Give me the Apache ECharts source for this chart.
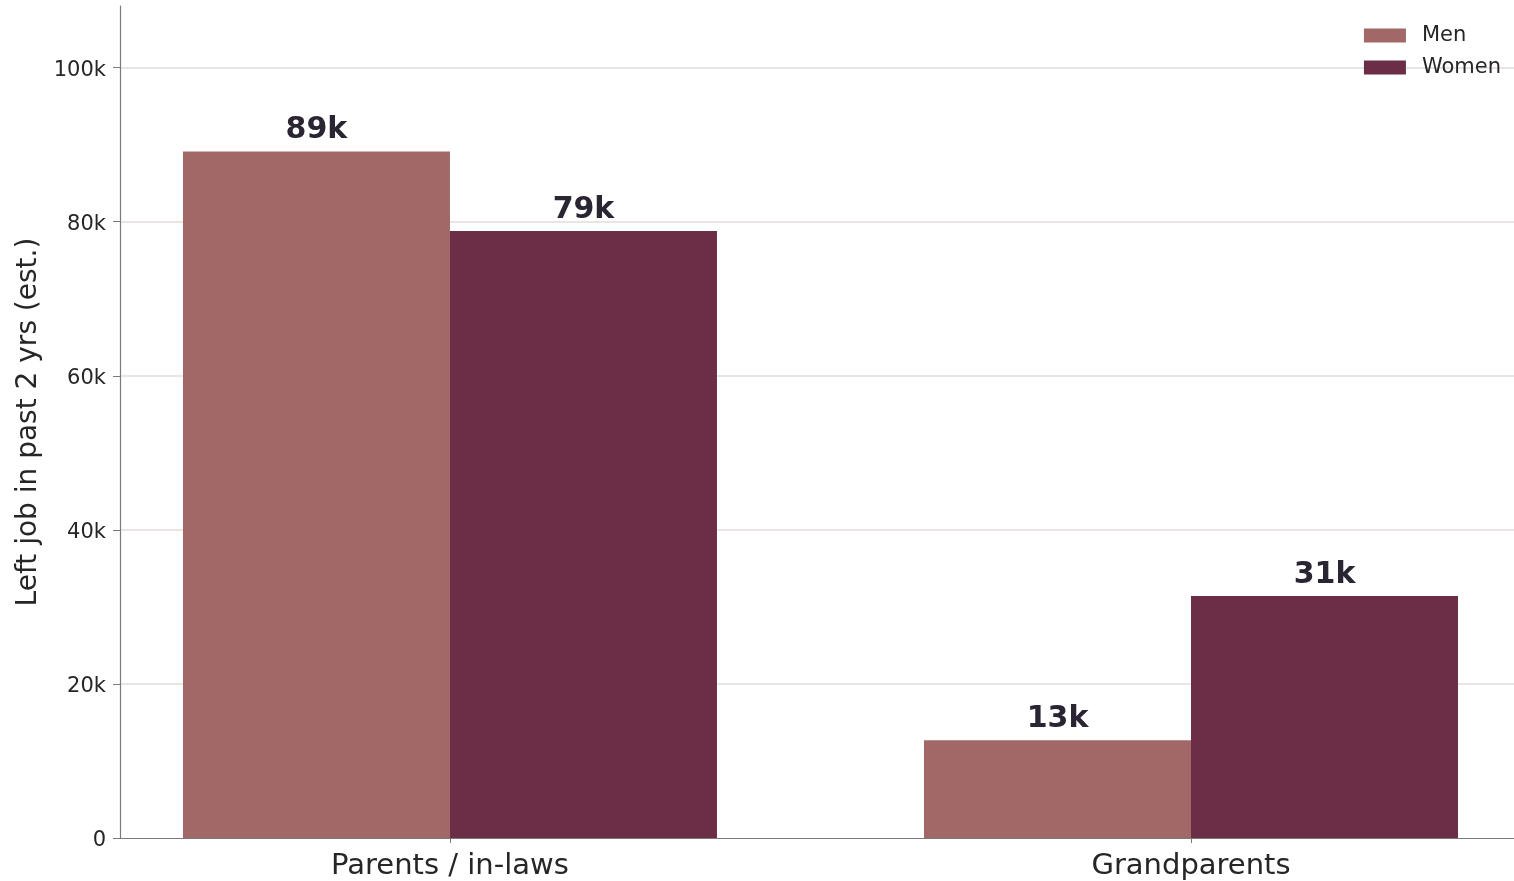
<!DOCTYPE html>
<html>
<head>
<meta charset="utf-8">
<title>Left job in past 2 years</title>
<script src="https://cdn.jsdelivr.net/npm/echarts@6/dist/echarts.min.js"></script>
<style>
  html, body { margin: 0; padding: 0; background: #ffffff; }
  #chart { width: 1514px; height: 881px; }
</style>
</head>
<body>
<div id="chart"></div>
<script>
// Care-related job exits, estimated, in thousands
const categories = ['Parents / in-laws', 'Grandparents'];
const menValues = [89.1, 12.7];
const womenValues = [78.8, 31.4];
const seriesNames = ['Men', 'Women'];
const yTickValues = [0, 20, 40, 60, 80, 100];

const FONT = 'DejaVu Sans';
const MEN_COLOR = '#a26868';
const WOMEN_COLOR = '#6b2e46';
const AXIS_COLOR = '#7a7a7a';
const TEXT_COLOR = '#262626';

const chart = echarts.init(document.getElementById('chart'), null, { renderer: 'canvas' });

const catPositions = categories.map((c, i) => i);

function barSeries(name, values, color) {
  return {
    name: name,
    type: 'bar',
    data: values.map((v, i) => [catPositions[i], v]),
    barWidth: 267,
    barGap: '0%',
    itemStyle: { color: color },
    label: {
      show: true,
      position: 'top',
      distance: 6,
      fontFamily: FONT,
      fontSize: 30,
      fontWeight: 'bold',
      color: '#2a2433',
      formatter: p => Math.round(p.value[1]) + 'k'
    },
    emphasis: { disabled: true }
  };
}

chart.setOption({
  animation: false,
  backgroundColor: '#ffffff',
  grid: { left: 120, right: 0, top: 6, bottom: 43, containLabel: false },
  legend: {
    data: seriesNames,
    orient: 'vertical',
    right: 8,
    top: 20,
    icon: 'rect',
    itemWidth: 42,
    itemHeight: 14,
    itemGap: 11,
    textStyle: { fontFamily: FONT, fontSize: 21, color: TEXT_COLOR, padding: [0, 0, 0, 11] }
  },
  xAxis: {
    type: 'value',
    min: -0.4453,
    max: 1.4359,
    axisLine: { show: true, onZero: false, lineStyle: { color: AXIS_COLOR, width: 1.2 } },
    axisTick: { show: true, customValues: catPositions, length: 5, lineStyle: { color: AXIS_COLOR } },
    axisLabel: {
      customValues: catPositions,
      formatter: v => categories[Math.round(v)],
      fontFamily: FONT,
      fontSize: 29,
      color: TEXT_COLOR,
      margin: 14
    },
    splitLine: { show: false }
  },
  yAxis: {
    type: 'value',
    min: 0,
    max: 108,
    interval: 20,
    name: 'Left job in past 2 yrs (est.)',
    nameLocation: 'middle',
    nameGap: 76,
    nameTextStyle: { fontFamily: FONT, fontSize: 28, color: TEXT_COLOR },
    axisLine: { show: true, onZero: false, lineStyle: { color: AXIS_COLOR, width: 1.2 } },
    axisTick: { show: true, customValues: yTickValues, length: 7, lineStyle: { color: AXIS_COLOR } },
    axisLabel: {
      customValues: yTickValues,
      formatter: v => '{v|' + (v === 0 ? '0' : v + 'k') + '}',
      margin: 14,
      rich: {
        v: { fontFamily: FONT, fontSize: 21, color: TEXT_COLOR, padding: [5, 0, 0, 0] }
      }
    },
    splitLine: { show: true, showMinLine: false, showMaxLine: true, lineStyle: { color: '#e3dcda', width: 1.5 } }
  },
  series: [
    barSeries(seriesNames[0], menValues, MEN_COLOR),
    barSeries(seriesNames[1], womenValues, WOMEN_COLOR)
  ]
});
</script>
</body>
</html>
